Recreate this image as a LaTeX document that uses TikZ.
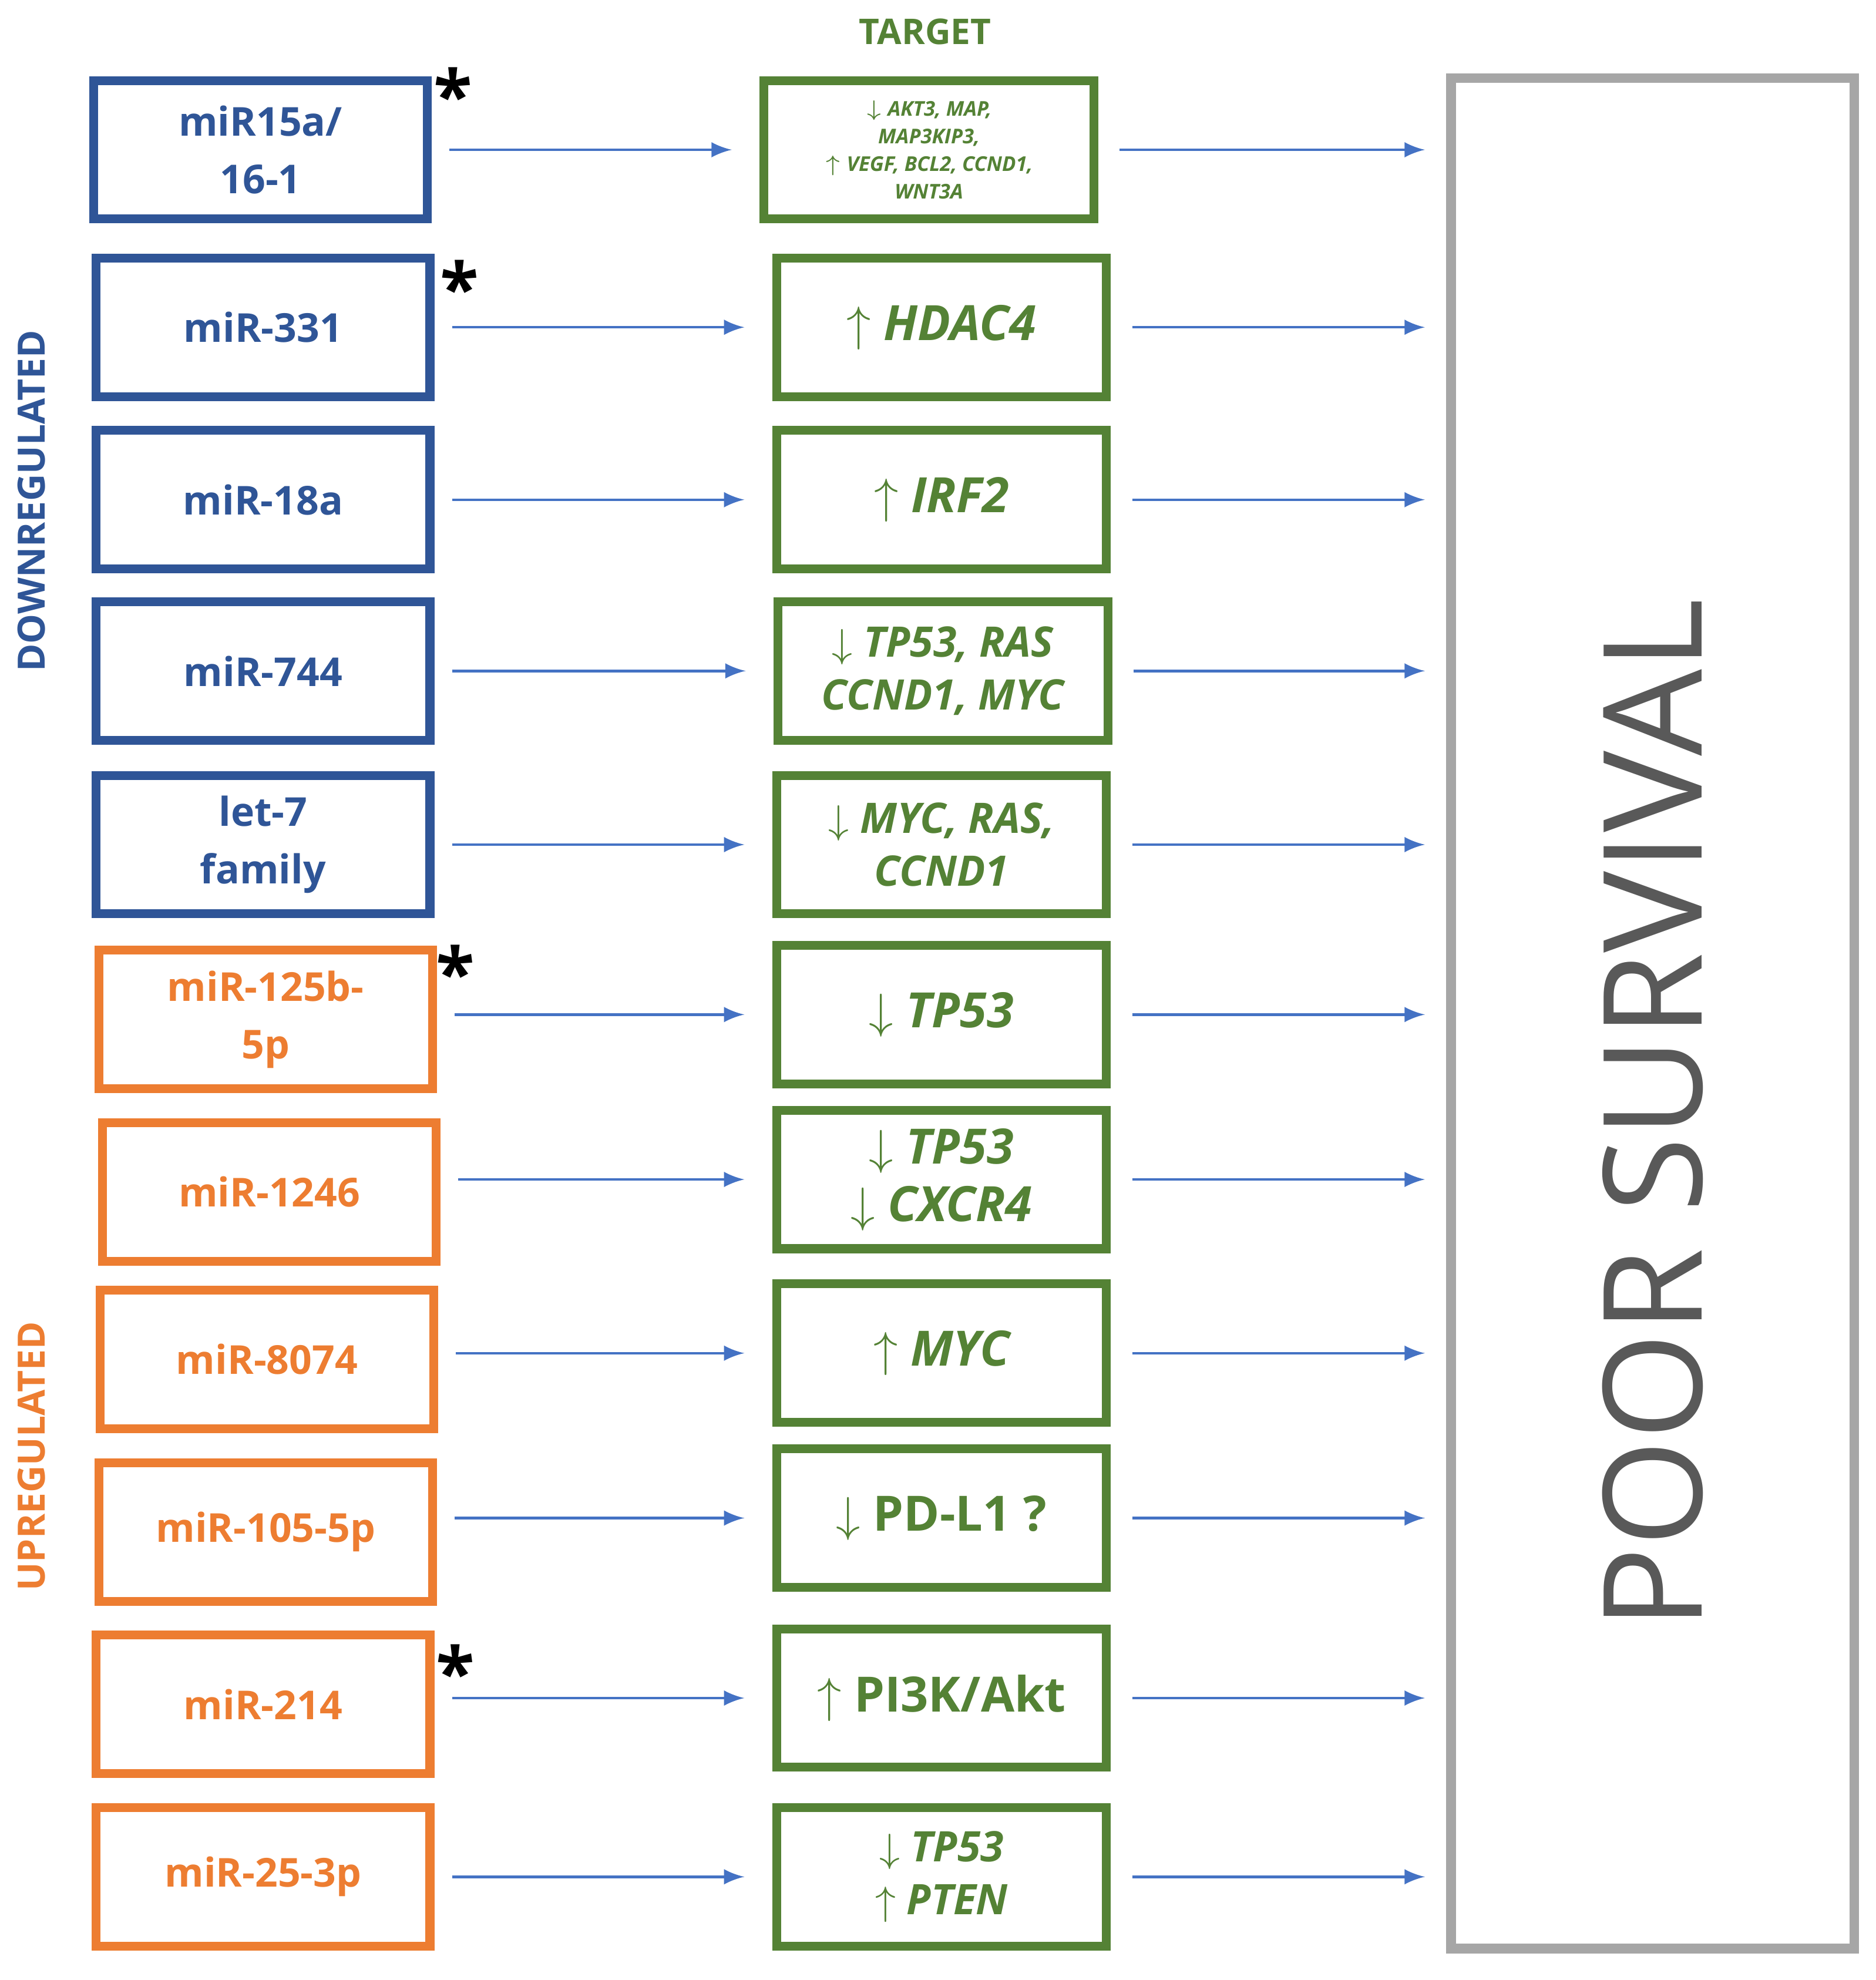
\documentclass[tikz,border=0pt]{standalone}
\usepackage{fontspec}
\setmainfont{Open Sans}
\usetikzlibrary{positioning}
\definecolor{downblue}{HTML}{2F5597}
\definecolor{uporange}{HTML}{ED7D31}
\definecolor{targetgreen}{HTML}{548235}
\definecolor{arrowblue}{HTML}{4472C4}
\definecolor{boxgray}{HTML}{A6A6A6}
\definecolor{textgray}{HTML}{595959}
\newcommand{\up}{$\uparrow$}
\newcommand{\dn}{$\downarrow$}
\begin{document}
\begin{tikzpicture}[x=0.01cm,y=-0.01cm]
	\tikzset{mirbox/.style={draw, line width=2pt, minimum width=2.65cm, minimum height=1.1cm, align=center, font=\fontsize{9}{13}\selectfont\bfseries},
	down/.style={mirbox, draw=downblue, text=downblue},
	upreg/.style={mirbox, draw=uporange, text=uporange},
	target/.style={mirbox, draw=targetgreen, text=targetgreen, minimum width=2.62cm, font=\fontsize{9.5}{12}\selectfont\bfseries\itshape},
	link/.style={draw=arrowblue, line width=0.6pt, -latex}}
	\useasboundingbox (0,0) rectangle (1490,1573);
	% TARGET heading and side labels
	\node[text=targetgreen, font=\fontsize{8}{10}\selectfont\bfseries] (head) at (735,25) {TARGET};
	\node[rotate=90, text=downblue, font=\fontsize{8.5}{10}\selectfont\bfseries] (dlab) at (25,398) {DOWNREGULATED};
	\node[rotate=90, text=uporange, font=\fontsize{8.5}{10}\selectfont\bfseries] (ulab) at (25,1157) {UPREGULATED};
	% outcome box
	\node[draw=boxgray, line width=2.2pt, minimum width=3.2cm, minimum height=14.85cm] (surv) at (1313,805) {};
	\node[rotate=90, text=textgray, font=\fontsize{31}{36}\selectfont] (survtxt) at (1313,885) {POOR SURVIVAL};
	% miRNA boxes
	\node[down] (m1) at (207,119) {miR15a/\\16-1};
	\node[down] (m2) at (209,260) {miR-331};
	\node[down] (m3) at (209,397) {miR-18a};
	\node[down] (m4) at (209,533) {miR-744};
	\node[down] (m5) at (209,671) {let-7\\family};
	\node[upreg] (m6) at (211,810) {miR-125b-\\5p};
	\node[upreg] (m7) at (214,947) {miR-1246};
	\node[upreg] (m8) at (212,1080) {miR-8074};
	\node[upreg] (m9) at (211,1217) {miR-105-5p};
	\node[upreg] (m10) at (209,1354) {miR-214};
	\node[upreg] (m11) at (209,1491) {miR-25-3p};
	% target boxes
	\node[target, font=\fontsize{4.6}{6.2}\selectfont\bfseries\itshape] (t1) at (738,119) {\dn\ AKT3, MAP,\\MAP3KIP3,\\\up\ VEGF, BCL2, CCND1,\\WNT3A};
	\node[target, font=\fontsize{11}{13}\selectfont\bfseries\itshape] (t2) at (748,260) {\up\ HDAC4};
	\node[target, font=\fontsize{11}{13}\selectfont\bfseries\itshape] (t3) at (748,397) {\up\ IRF2};
	\node[target] (t4) at (749,533) {\dn\ TP53, RAS\\CCND1, MYC};
	\node[target] (t5) at (748,671) {\dn\ MYC, RAS,\\CCND1};
	\node[target, font=\fontsize{11}{13}\selectfont\bfseries\itshape] (t6) at (748,806) {\dn\ TP53};
	\node[target, font=\fontsize{11}{13}\selectfont\bfseries\itshape] (t7) at (748,937) {\dn\ TP53\\\dn\ CXCR4};
	\node[target, font=\fontsize{11}{13}\selectfont\bfseries\itshape] (t8) at (748,1075) {\up\ MYC};
	\node[target, font=\fontsize{11}{13}\selectfont\bfseries] (t9) at (748,1206) {\dn\ PD-L1 ?};
	\node[target, font=\fontsize{11}{13}\selectfont\bfseries] (t10) at (748,1349) {\up\ PI3K/Akt};
	\node[target] (t11) at (748,1491) {\dn\ TP53\\\up\ PTEN};
	% asterisks
	\foreach \i/\x/\y in {a/360/75, b/365/228, c/362/772, d/362/1328}
		\node[font=\fontsize{16}{16}\selectfont\bfseries] (star\i) at (\x,\y) {*};
	% connectors
	\foreach \i in {1,...,11} {
		\path[link, shorten <=0.14cm, shorten >=0.22cm] (m\i.east |- t\i.west) -- (t\i.west);
		\path[link, shorten <=0.17cm, shorten >=0.17cm] (t\i.east) -- (surv.west |- t\i.east);
	}
\end{tikzpicture}
\end{document}
